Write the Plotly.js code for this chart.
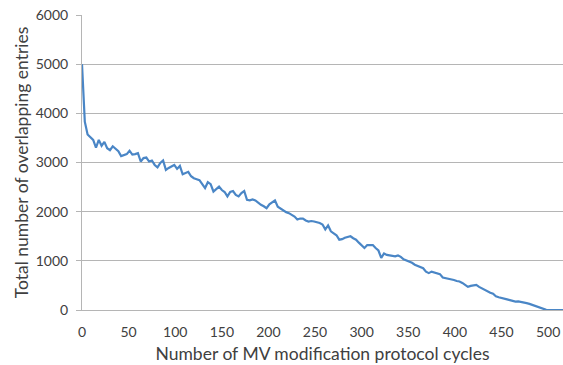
<!DOCTYPE html>
<html>
<head>
<meta charset="utf-8">
<script src="https://cdn.plot.ly/plotly-3.0.1.min.js"></script>
<style>
  html, body { margin: 0; padding: 0; background: #fff; }
  #chart { width: 563px; height: 365px; }
</style>
</head>
<body>
<div id="chart"></div>
<script>
// Protocol cycle index (x) and the total overlapping entries at that cycle (y)
const cycles = [
  0, 3, 6, 9, 12, 15, 18, 21, 24, 27, 30, 33, 36, 39, 42, 45, 48, 51, 54, 57,
  60, 63, 66, 69, 72, 75, 78, 81, 84, 87, 90, 93, 96, 99, 102, 105, 108, 111, 114, 117,
  120, 123, 126, 129, 132, 135, 138, 141, 144, 147, 150, 153, 156, 159, 162, 165, 168, 171, 174, 177,
  180, 183, 186, 189, 192, 195, 198, 201, 204, 207, 210, 213, 216, 219, 222, 225, 228, 231, 234, 237,
  240, 243, 246, 249, 252, 255, 258, 261, 264, 267, 270, 273, 276, 279, 282, 285, 288, 291, 294, 297,
  300, 303, 306, 309, 312, 315, 318, 321, 324, 327, 330, 333, 336, 339, 342, 345, 348, 351, 354, 357,
  360, 363, 366, 369, 372, 375, 378, 381, 384, 387, 390, 393, 396, 399, 402, 405, 408, 411, 414, 417,
  420, 423, 426, 429, 432, 435, 438, 441, 444, 447, 450, 453, 456, 459, 462, 465, 468, 471, 474, 477,
  480, 483, 486, 489, 492, 495, 498, 501, 504, 507, 510, 513, 516
];
const overlapping = [
  5000, 3830, 3570, 3520, 3460, 3300, 3460, 3340, 3420, 3290, 3250, 3330, 3280, 3230, 3130, 3150, 3170, 3240, 3160, 3170,
  3190, 3020, 3090, 3100, 3020, 3040, 2950, 2900, 2990, 3040, 2850, 2890, 2915, 2950, 2870, 2930, 2760, 2790, 2810, 2720,
  2680, 2660, 2640, 2560, 2480, 2600, 2560, 2410, 2470, 2510, 2440, 2400, 2310, 2400, 2420, 2340, 2310, 2380, 2420, 2240,
  2230, 2250, 2230, 2180, 2140, 2110, 2070, 2150, 2200, 2230, 2100, 2060, 2020, 1990, 1970, 1930, 1900, 1840, 1860, 1860,
  1820, 1800, 1810, 1800, 1790, 1770, 1740, 1640, 1720, 1600, 1560, 1520, 1430, 1440, 1470, 1480, 1500, 1460, 1430, 1370,
  1320, 1260, 1320, 1320, 1320, 1260, 1210, 1060, 1150, 1120, 1110, 1090, 1090, 1110, 1080, 1030, 1010, 990, 960, 920,
  900, 870, 850, 780, 750, 780, 760, 750, 730, 660, 650, 640, 630, 610, 590, 580, 550, 500, 470, 490,
  500, 510, 470, 440, 400, 370, 350, 330, 280, 260, 240, 235, 215, 200, 185, 170, 175, 168, 160, 140,
  125, 105, 80, 55, 30, 12, 3, 0, 0, 0, 0, 0, 0
];
const yTicks = [0, 1000, 2000, 3000, 4000, 5000, 6000];
const xTicks = [0, 50, 100, 150, 200, 250, 300, 350, 400, 450, 500];

const textColor = '#404040';
const gridColor = '#b5b5b5';
const fontFamily = 'Lato, "Open Sans", sans-serif';

const trace = {
  x: cycles,
  y: overlapping,
  type: 'scatter',
  mode: 'lines',
  line: { color: '#4a86c6', width: 2.2 },
  hoverinfo: 'x+y'
};

const layout = {
  width: 563,
  height: 365,
  margin: { l: 82, r: 0, t: 15, b: 55 },
  paper_bgcolor: '#ffffff',
  plot_bgcolor: '#ffffff',
  showlegend: false,
  font: { family: fontFamily, color: textColor, size: 14 },
  xaxis: {
    range: [0, 516],
    tickmode: 'array',
    tickvals: xTicks,
    ticktext: xTicks.map(String),
    showgrid: false,
    zeroline: false,
    showline: true,
    linecolor: gridColor,
    linewidth: 1,
    ticks: '',
    ticklabelstandoff: 9,
    ticklabeloverflow: 'allow',
    tickfont: { size: 14, color: textColor },
    title: { text: 'Number of MV modification protocol cycles', font: { size: 17.5, color: textColor }, standoff: 8 }
  },
  yaxis: {
    range: [0, 6000],
    tickmode: 'array',
    tickvals: yTicks,
    ticktext: yTicks.map(String),
    showgrid: true,
    gridcolor: gridColor,
    gridwidth: 1,
    zeroline: false,
    showline: true,
    linecolor: gridColor,
    linewidth: 1,
    ticks: 'outside',
    ticklen: 5,
    tickcolor: gridColor,
    ticklabelstandoff: 5,
    tickfont: { size: 14, color: textColor },
    title: { text: 'Total number of overlapping entries', font: { size: 17.5, color: textColor }, standoff: 2 }
  }
};

Plotly.newPlot('chart', [trace], layout, { displayModeBar: false, staticPlot: true });
</script>
</body>
</html>
